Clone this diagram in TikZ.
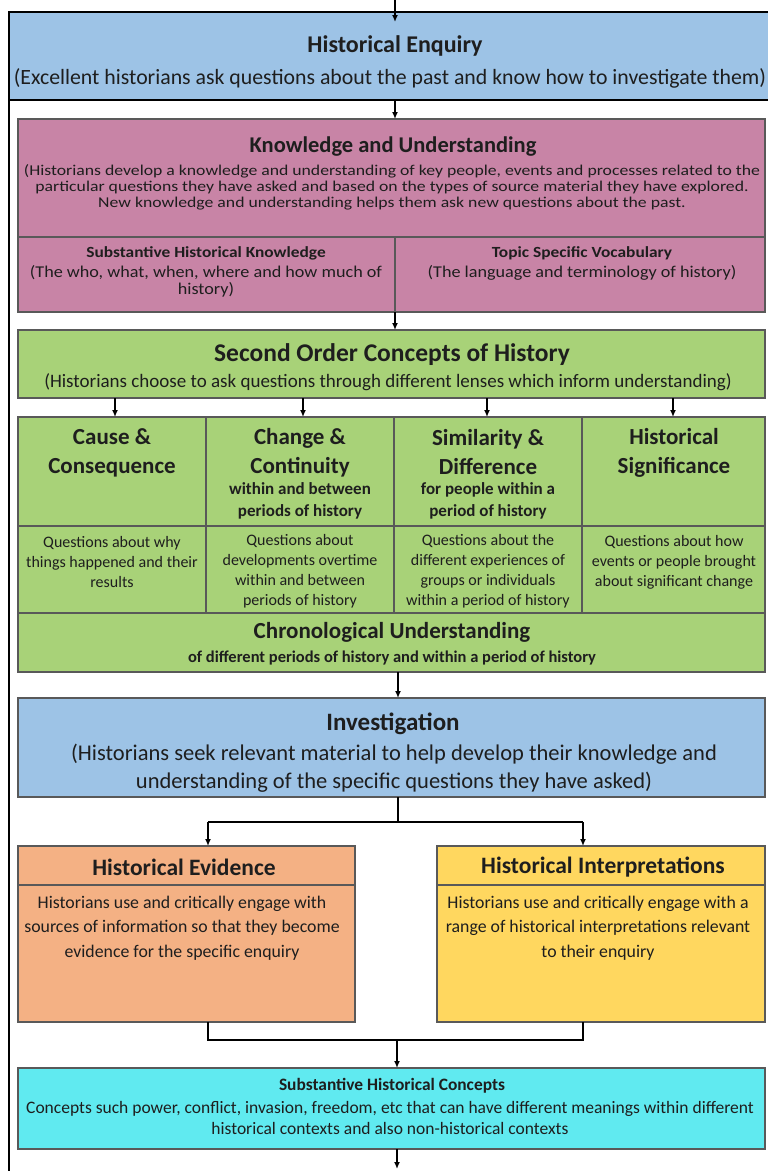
\documentclass[tikz,border=0pt]{standalone}
\usepackage{fontspec}
\setmainfont{Carlito}
\usetikzlibrary{arrows.meta,calc}
\definecolor{hblue}{RGB}{157,195,230}
\definecolor{kpink}{RGB}{200,132,166}
\definecolor{sgreen}{RGB}{168,210,120}
\definecolor{eorange}{RGB}{244,177,132}
\definecolor{iyellow}{RGB}{255,215,95}
\definecolor{ccyan}{RGB}{96,234,240}
\definecolor{ink}{RGB}{30,30,30}
\newcommand\fsz[2]{\fontsize{#1pt}{#2pt}\selectfont}
\newcommand\fst[3]{\fontsize{#1pt}{#2pt}\selectfont\addfontfeature{FakeStretch=#3}}
\tikzset{
  box/.style={draw=black!65, line width=1.2pt, inner sep=0pt, outer sep=0pt, anchor=north west},
  txt/.style={inner sep=0pt, outer sep=0pt, align=center, text=ink},
  arr/.style={-{Latex[length=7pt,width=6pt]}, line width=1.4pt, black},
  conn/.style={line width=2pt, black},
  frame/.style={line width=2.5pt, black},
}
\begin{document}
\begin{tikzpicture}[x=1pt,y=-1pt]
\useasboundingbox (0,0) rectangle (768,1171);
\fill[white] (0,0) rectangle (768,1171);

% boxes
\node[box, draw=black, line width=2.5pt, fill=hblue, minimum width=775pt, minimum height=88pt] (he) at (9,12) {};
\node[box, fill=kpink, minimum width=747pt, minimum height=118pt] (kut) at (18,119) {};
\node[box, fill=kpink, minimum width=377pt, minimum height=75pt] (kul) at (18,237) {};
\node[box, fill=kpink, minimum width=370pt, minimum height=75pt] (kur) at (395,237) {};
\node[box, fill=sgreen, minimum width=747pt, minimum height=68pt] (soc) at (18,330) {};
\node[box, fill=sgreen, minimum width=188pt, minimum height=109pt] (t1) at (18,417) {};
\node[box, fill=sgreen, minimum width=188pt, minimum height=109pt] (t2) at (206,417) {};
\node[box, fill=sgreen, minimum width=188pt, minimum height=109pt] (t3) at (394,417) {};
\node[box, fill=sgreen, minimum width=183pt, minimum height=109pt] (t4) at (582,417) {};
\node[box, fill=sgreen, minimum width=188pt, minimum height=87pt] (q1) at (18,526) {};
\node[box, fill=sgreen, minimum width=188pt, minimum height=87pt] (q2) at (206,526) {};
\node[box, fill=sgreen, minimum width=188pt, minimum height=87pt] (q3) at (394,526) {};
\node[box, fill=sgreen, minimum width=183pt, minimum height=87pt] (q4) at (582,526) {};
\node[box, fill=sgreen, minimum width=747pt, minimum height=59pt] (chrono) at (18,613) {};
\node[box, fill=hblue, minimum width=747pt, minimum height=99pt] (inv) at (18,698) {};
\node[box, fill=eorange, minimum width=337pt, minimum height=39pt] (evt) at (18,846) {};
\node[box, fill=eorange, minimum width=337pt, minimum height=137pt] (evb) at (18,885) {};
\node[box, fill=iyellow, minimum width=328pt, minimum height=39pt] (ipt) at (437,846) {};
\node[box, fill=iyellow, minimum width=328pt, minimum height=137pt] (ipb) at (437,885) {};
\node[box, fill=ccyan, minimum width=747pt, minimum height=81pt] (shc) at (18,1068) {};

% frame line on the left
\coordinate (fbot) at (0,1175);
\draw[frame] (he.south west) -- (he.south west |- fbot);

% texts
\node[txt, font=\bfseries\fsz{24}{28}] (heT) at (395,46) {Historical Enquiry};
\node[txt, font=\fsz{21.8}{25}] (heS) at (390,78) {(Excellent historians ask questions about the past and know how to investigate them)};

\node[txt, font=\bfseries\fsz{22.5}{26}] (kuT) at (393,147) {Knowledge and Understanding};
\node[txt, font=\fst{15}{16}{1.18}] (kuS) at (392,187) {(Historians develop a knowledge and understanding of key people, events and processes related to the\\particular questions they have asked and based on the types of source material they have explored.\\New knowledge and understanding helps them ask new questions about the past.};
\node[txt, font=\bfseries\fst{15.5}{18}{1.12}] (kulT) at (206,253) {Substantive Historical Knowledge};
\node[txt, font=\fst{16.5}{17}{1.1}] (kulS) at (206,281) {(The who, what, when, where and how much of\\history)};
\node[txt, font=\bfseries\fst{15.5}{18}{1.12}] (kurT) at (582,253) {Topic Specific Vocabulary};
\node[txt, font=\fst{16.5}{19}{1.1}] (kurS) at (582,273) {(The language and terminology of history)};

\node[txt, font=\bfseries\fsz{25.5}{30}] (socT) at (392,355) {Second Order Concepts of History};
\node[txt, font=\fsz{19}{22}] (socS) at (388,382) {(Historians choose to ask questions through different lenses which inform understanding)};

\node[txt, font=\bfseries\fsz{23}{29}] (t1T) at (112,452.5) {Cause \&\\Consequence};
\node[txt, font=\bfseries\fsz{23}{29}] (t2T) at (300,452.5) {Change \&\\Continuity};
\node[txt, font=\bfseries\fsz{17}{22}] (t2S) at (300,501) {within and between\\periods of history};
\node[txt, font=\bfseries\fsz{23}{29}] (t3T) at (488,452.5) {Similarity \&\\Difference};
\node[txt, font=\bfseries\fsz{17}{22}] (t3S) at (488,501) {for people within a\\period of history};
\node[txt, font=\bfseries\fsz{23}{29}] (t4T) at (674,452.5) {Historical\\Significance};

\node[txt, font=\fsz{16}{20}] (q1S) at (112,562) {Questions about why\\things happened and their\\results};
\node[txt, font=\fsz{16}{20}] (q2S) at (300,571.5) {Questions about\\developments overtime\\within and between\\periods of history};
\node[txt, font=\fsz{16}{20}] (q3S) at (488,571.5) {Questions about the\\different experiences of\\groups or individuals\\within a period of history};
\node[txt, font=\fsz{16}{20}] (q4S) at (674,562) {Questions about how\\events or people brought\\about significant change};

\node[txt, font=\bfseries\fsz{23}{27}] (chT) at (392,632) {Chronological Understanding};
\node[txt, font=\bfseries\fsz{16.5}{20}] (chS) at (392,658) {of different periods of history and within a period of history};

\node[txt, font=\bfseries\fsz{25}{30}] (invT) at (393,724) {Investigation};
\node[txt, font=\fsz{22.5}{28}] (invS) at (394,768) {(Historians seek relevant material to help develop their knowledge and\\understanding of the specific questions they have asked)};

\node[txt, font=\bfseries\fsz{23.5}{28}] (evT) at (184,867) {Historical Evidence};
\node[txt, font=\fsz{17.8}{24.5}] (evS) at (182,928) {Historians use and critically engage with\\sources of information so that they become\\evidence for the specific enquiry};
\node[txt, font=\bfseries\fsz{23.5}{28}] (ipT) at (603,867) {Historical Interpretations};
\node[txt, font=\fsz{17.8}{24.5}] (ipS) at (598,928) {Historians use and critically engage with a\\range of historical interpretations relevant\\to their enquiry};

\node[txt, font=\bfseries\fsz{17.4}{21}] (shcT) at (392,1086) {Substantive Historical Concepts};
\node[txt, font=\fsz{17.5}{21}] (shcS) at (390,1118) {Concepts such power, conflict, invasion, freedom, etc that can have different meanings within different\\historical contexts and also non-historical contexts};

% connectors
\coordinate (ax) at (395,0);
\coordinate (topin) at (395,22);
\draw[arr] (ax) -- (topin);
\draw[arr] (he.south -| ax) -- (kut.north -| ax);
\draw[arr] (kur.south west) -- (soc.north -| kur.south west);
\coordinate (a1) at (115,0);
\coordinate (a2) at (303,0);
\coordinate (a3) at (487,0);
\coordinate (a4) at (673,0);
\draw[arr] (soc.south -| a1) -- (t1.north -| a1);
\draw[arr] (soc.south -| a2) -- (t2.north -| a2);
\draw[arr] (soc.south -| a3) -- (t3.north -| a3);
\draw[arr] (soc.south -| a4) -- (t4.north -| a4);
\coordinate (bx) at (398,0);
\draw[arr] (chrono.south -| bx) -- (inv.north -| bx);
\coordinate (split) at (398,822);
\coordinate (evx) at (208,0);
\coordinate (ipx) at (583,0);
\draw[conn] (inv.south -| split) -- (split);
\draw[conn] (evx |- split) -- (ipx |- split);
\draw[arr] (evx |- split) -- (evt.north -| evx);
\draw[arr] (ipx |- split) -- (ipt.north -| ipx);
\coordinate (join) at (397,1040);
\draw[conn] (evb.south -| evx) -- (evx |- join) -- (ipx |- join) -- (ipb.south -| ipx);
\draw[arr] (join) -- (shc.north -| join);
\coordinate (endc) at (397,1169);
\draw[arr] (shc.south -| endc) -- (endc);
\end{tikzpicture}
\end{document}
